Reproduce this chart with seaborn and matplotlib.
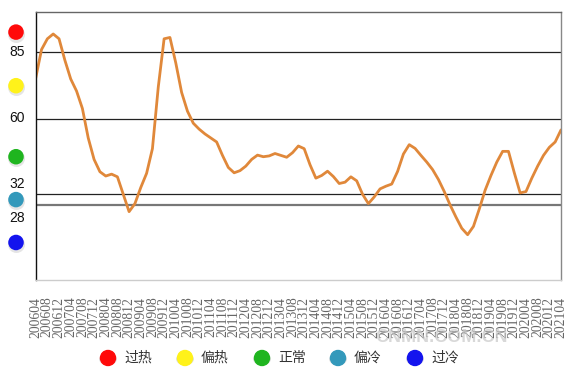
import matplotlib
matplotlib.use("Agg")
import matplotlib.pyplot as plt
import matplotlib.transforms as mtransforms
import seaborn as sns
import pandas as pd

# tick labels, every 4 months
tick_labels = [
	"200604", "200608", "200612", "200704", "200708", "200712", "200804", "200808",
	"200812", "200904", "200908", "200912", "201004", "201008", "201012", "201104",
	"201108", "201112", "201204", "201208", "201212", "201304", "201308", "201312",
	"201404", "201408", "201412", "201504", "201508", "201512", "201604", "201608",
	"201612", "201704", "201708", "201712", "201804", "201808", "201812", "201904",
	"201908", "201912", "202004", "202008", "202012", "202104",
]

# index, one value every 2 months from 200604
index_values = [
	75.3, 86, 90, 91.8, 90, 82, 75, 70.5, 64, 53,
	45, 40.4, 38.8, 39.5, 38.5, 32, 25.5, 28.5, 34.5, 39.8,
	49, 72, 90, 90.5, 81, 70, 63, 58.5, 56.3, 54.5,
	53, 51.5, 46.5, 42, 40, 40.8, 42.5, 45, 46.6, 46,
	46.3, 47.2, 46.5, 45.8, 47.5, 50, 49, 43, 38, 39,
	40.6, 38.6, 36, 36.5, 38.5, 37, 32, 28.5, 31, 34,
	35, 35.8, 40.5, 47, 50.5, 49.1, 46.5, 44, 41.2, 37.5,
	33, 28, 23.5, 19.3, 16.9, 20, 26.5, 33.5, 39, 44,
	48, 48, 40, 32.5, 33, 38, 42.5, 46.5, 49.5, 51.5,
	56,
]

levels = [85, 60, 32, 28]
level_names = ["过热", "偏热", "正常", "偏冷", "过冷"]
level_colours = ["#FF0A0A", "#FFF21A", "#1FB51F", "#3399BB", "#1414EE"]

W, H = 577, 374

df = pd.DataFrame({"month": range(0, 2 * len(index_values), 2), "index": index_values})

sns.set_style("white")
plt.rcParams["font.family"] = ["Liberation Sans", "DejaVu Sans"]

fig = plt.figure(figsize=(W / 100, H / 100), dpi=100)
ax = fig.add_axes([35.7 / W, 1 - 280 / H, (561 - 35.7) / W, (280 - 12) / H])

sns.lineplot(data=df, x="month", y="index", ax=ax, color="#E0883A", linewidth=2.0)
for line in ax.get_lines():
	line.set_solid_joinstyle("round")
	line.set_solid_capstyle("round")

for v in levels:
	if v == 28:
		ax.axhline(v, color="#777777", linewidth=1.6, zorder=1)
	else:
		ax.axhline(v, color="#222222", linewidth=0.9, zorder=1)

ax.set_xlim(0, 180)
ax.set_ylim(0, 100)
ax.set_yticks([])
ax.set_xticks(range(0, 4 * len(tick_labels), 4))
ax.set_xticklabels(tick_labels, rotation=90, family="Liberation Serif", fontsize=9.8, color="#666666")
ax.tick_params(axis="x", length=0, pad=12)
ax.set_xlabel("")
ax.set_ylabel("")

for side, col, lw in [("left", "#111111", 1.0), ("bottom", "#cccccc", 1.0),
					("top", "#666666", 1.0), ("right", "#888888", 1.0)]:
	ax.spines[side].set_color(col)
	ax.spines[side].set_linewidth(lw)

# status dots at the middle of each band, left of the axis
bounds = [100] + levels + [0]
mids = [(bounds[i] + bounds[i + 1]) / 2 for i in range(len(bounds) - 1)]
trans = mtransforms.blended_transform_factory(ax.transAxes, ax.transData)
dot_x = (16 - 35.7) / (561 - 35.7)
ax.scatter([dot_x] * len(mids), [m - 0.6 for m in mids], s=150, color="#999999", alpha=0.25,
		transform=trans, clip_on=False, linewidths=0)
ax.scatter([dot_x] * len(mids), mids, s=125, color=level_colours, transform=trans,
		clip_on=False, linewidths=0, zorder=5)

label_y = [85, 60.6, 36, 23]
for v, yy in zip(levels, label_y):
	ax.text(dot_x + 0.002, yy, str(v), transform=trans, ha="center", va="center",
			fontsize=10, color="#111111")

# legend along the bottom
lx = [108, 185, 262, 338, 415]
ly = 358
for x, name, col in zip(lx, level_names, level_colours):
	fig.add_artist(plt.Circle((x / W, 1 - (ly + 1.2) / H), 8.3 / W, color="#999999", alpha=0.25,
		transform=fig.transFigure))
	fig.add_artist(matplotlib.patches.Ellipse((x / W, 1 - ly / H), 15 / W, 15 / H, color=col,
		transform=fig.transFigure))
	fig.text((x + 16) / W, 1 - ly / H, name, ha="left", va="center", fontsize=10,
		color="#333333", family=["Noto Sans CJK SC", "DejaVu Sans"])

# site watermark
fig.text(442 / W, 1 - 337 / H, "CNMN.COM.CN", ha="center", va="center", fontsize=13,
	color="#c8c8c8", alpha=0.7, fontweight="bold")

fig.savefig("out.png", dpi=100)
